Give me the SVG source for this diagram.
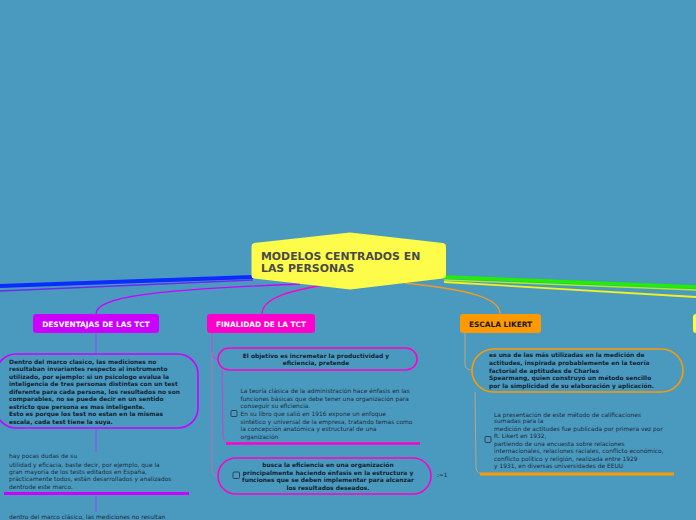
<svg xmlns="http://www.w3.org/2000/svg" width="696" height="520" viewBox="0 0 696 520">
<style>
.bg{fill:#4A9AC0}
.hdr{font-family:"DejaVu Sans",Verdana,sans-serif;font-weight:bold;font-size:7.4px}
.bt{font-family:"DejaVu Sans",Verdana,sans-serif;font-weight:bold;font-size:5.95px;fill:#142230}
.rt{font-family:"DejaVu Sans",Verdana,sans-serif;font-size:5.95px;fill:#1d2c3a}
.cb{fill:none;stroke:#2a3a4a;stroke-width:0.9}
.ln{fill:none}
</style>
<rect class="bg" x="0" y="0" width="696" height="520"/>
<g id="connectors">
  <path class="ln" d="M253 277 L0 286" stroke="#0a2cff" stroke-width="4"/>
  <path class="ln" d="M253 280 L0 291" stroke="#6a2cf0" stroke-width="1.6"/>
  <path class="ln" d="M300 284 C150 290 96 297 96 314" stroke="#cc00ff" stroke-width="1.3"/>
  <path class="ln" d="M335 283 C290 290 262 298 262 314" stroke="#ff00cc" stroke-width="1.3"/>
  <path class="ln" d="M405 283 C470 290 500 298 500 314" stroke="#f39a1a" stroke-width="1.3"/>
  <path class="ln" d="M444 277 L696 287" stroke="#22ee00" stroke-width="3.5"/>
  <path class="ln" d="M444 280 L696 290" stroke="#a8f020" stroke-width="1.4"/>
  <path class="ln" d="M444 282 L696 297" stroke="#f2f020" stroke-width="1.8"/>
  <path class="ln" d="M96 333 L96 354" stroke="#a040ff" stroke-width="1"/>
  <path class="ln" d="M96 428 L96 452" stroke="#a040ff" stroke-width="1"/>
  <path class="ln" d="M4 493.5 L189 493.5" stroke="#cc00ff" stroke-width="3"/>
  <path class="ln" d="M96 496 L96 512" stroke="#a040ff" stroke-width="1"/>
  <path class="ln" d="M212 333 L212 352 Q212 359 218 359" stroke="#d040c8" stroke-width="1"/>
  <path class="ln" d="M212 352 L212 470 Q212 476 218 476" stroke="#c070b8" stroke-width="1"/>
  <path class="ln" d="M222 370 L223 436 Q224 443 230 443" stroke="#d040c8" stroke-width="1"/>
  <path class="ln" d="M226 443.5 L420 443.5" stroke="#ff00cc" stroke-width="2.6"/>
  <path class="ln" d="M465 333 L465 364 Q465 370 472 370" stroke="#b8a77c" stroke-width="1"/>
  <path class="ln" d="M475 392 L476 468 Q477 474 483 474" stroke="#b8a77c" stroke-width="1"/>
  <path class="ln" d="M480 474 L674 474" stroke="#ff9900" stroke-width="3"/>
</g>
<g id="central">
  <path d="M254 243 L350 232.5 L443 243 Q446 243.5 446 247 L446 275 Q446 278 443 278.5 L350 289.5 L254 278.5 Q251.5 278 251.5 275 L251.5 247 Q251.5 243.5 254 243 Z" fill="#fdfc4a"/>
  <text x="261" y="259.5" font-family="DejaVu Sans,Verdana,sans-serif" font-weight="bold" font-size="10.9" fill="#4a4a4a">MODELOS CENTRADOS EN</text>
  <text x="261" y="272" font-family="DejaVu Sans,Verdana,sans-serif" font-weight="bold" font-size="10.9" fill="#4a4a4a">LAS PERSONAS</text>
</g>
<g id="desventajas">
  <rect x="33" y="314" width="126" height="19" rx="3" fill="#cc00ff"/>
  <text class="hdr" x="96" y="326.5" text-anchor="middle" fill="#ffffff">DESVENTAJAS DE LAS TCT</text>
</g>
<g id="desv-texto1">
  <rect x="-4" y="354" width="202" height="74" rx="20" fill="none" stroke="#cc00ff" stroke-width="1.6"/>
  <text class="bt" x="9" y="363.5">Dentro del marco clasico, las mediciones no</text>
  <text class="bt" x="9" y="371">resultaban invariantes respecto al instrumento</text>
  <text class="bt" x="9" y="378.5">utilizado, por ejemplo: si un psicologo evalua la</text>
  <text class="bt" x="9" y="386">inteligencia de tres personas distintas con un test</text>
  <text class="bt" x="9" y="393.5">diferente para cada persona, los resultados no son</text>
  <text class="bt" x="9" y="401">comparables, no se puede decir en un sentido</text>
  <text class="bt" x="9" y="408.5">estricto que persona es mas inteligente.</text>
  <text class="bt" x="9" y="416">Esto es porque los test no estan en la mismas</text>
  <text class="bt" x="9" y="424">escala, cada test tiene la suya.</text>
</g>
<g id="desv-texto2">
  <text class="rt" x="9" y="458">hay pocas dudas de su</text>
  <text class="rt" x="9" y="466.5">utilidad y eficacia, baste decir, por ejemplo, que la</text>
  <text class="rt" x="9" y="473.5">gran mayoría de los tests editados en España,</text>
  <text class="rt" x="9" y="481">prácticamente todos, están desarrollados y analizados</text>
  <text class="rt" x="9" y="488.5">dentrode este marco.</text>
</g>
<g id="desv-texto3">
  <text class="rt" x="9" y="519">dentro del marco clásico, las mediciones no resultan</text>
</g>
<g id="finalidad">
  <rect x="207" y="314" width="108" height="19" rx="3" fill="#ff00cc"/>
  <text class="hdr" x="261" y="326.5" text-anchor="middle" fill="#ffffff">FINALIDAD DE LA TCT</text>
</g>
<g id="fin-objetivo">
  <rect x="218" y="348" width="199" height="22" rx="11" fill="none" stroke="#ff00cc" stroke-width="1.6"/>
  <text class="bt" x="316" y="358" text-anchor="middle">El objetivo es incremetar la productividad y</text>
  <text class="bt" x="316" y="365" text-anchor="middle">eficiencia, pretende</text>
</g>
<g id="fin-teoria">
  <rect class="cb" x="231" y="410.5" width="6" height="6" rx="1"/>
  <text class="rt" x="240.5" y="392.5">La teoría clásica de la administración hace énfasis en las</text>
  <text class="rt" x="240.5" y="400.5">funciones básicas que debe tener una organización para</text>
  <text class="rt" x="240.5" y="408">conseguir su eficiencia.</text>
  <text class="rt" x="240.5" y="416">En su libro que salió en 1916 expone un enfoque</text>
  <text class="rt" x="240.5" y="423.5">sintético y universal de la empresa, tratando temas como</text>
  <text class="rt" x="240.5" y="431">la concepción anatómica y estructural de una</text>
  <text class="rt" x="240.5" y="438.5">organización</text>
</g>
<g id="fin-busca">
  <rect x="218" y="458" width="213" height="36" rx="18" fill="none" stroke="#ff00cc" stroke-width="1.6"/>
  <rect class="cb" x="233" y="472" width="6.5" height="6.5" rx="1"/>
  <text class="bt" x="328" y="466.5" text-anchor="middle">busca la eficiencia en una organización</text>
  <text class="bt" x="328" y="474.5" text-anchor="middle">principalmente haciendo énfasis en la estructura y</text>
  <text class="bt" x="328" y="482" text-anchor="middle">funciones que se deben implementar para alcanzar</text>
  <text class="bt" x="328" y="489.5" text-anchor="middle">los resultados deseados.</text>
  <text x="437" y="477" font-family="DejaVu Sans,Verdana,sans-serif" font-size="5.8" fill="#1d2c3a">:=1</text>
</g>
<g id="escala">
  <rect x="460" y="314" width="81" height="19" rx="3" fill="#ff9900"/>
  <text class="hdr" x="500.5" y="326.5" text-anchor="middle" fill="#1a1a1a">ESCALA LIKERT</text>
</g>
<g id="esc-definicion">
  <rect x="472" y="349" width="211" height="43" rx="21.5" fill="none" stroke="#ff9900" stroke-width="1.6"/>
  <text class="bt" x="489" y="357">es una de las más utilizadas en la medición de</text>
  <text class="bt" x="489" y="364.5">actitudes, inspirada probablemente en la teoría</text>
  <text class="bt" x="489" y="372.5">factorial de aptitudes de Charles</text>
  <text class="bt" x="489" y="380">Spearmang, quien construyó un método sencillo</text>
  <text class="bt" x="489" y="388">por la simplicidad de su elaboración y aplicación.</text>
</g>
<g id="esc-presentacion">
  <rect class="cb" x="485" y="436.5" width="6" height="6" rx="1"/>
  <text class="rt" x="494" y="416.5">La presentación de este método de calificaciones</text>
  <text class="rt" x="494" y="423">sumadas para la</text>
  <text class="rt" x="494" y="431">medición de actitudes fue publicada por primera vez por</text>
  <text class="rt" x="494" y="438">R. Likert en 1932,</text>
  <text class="rt" x="494" y="446">partiendo de una encuesta sobre relaciones</text>
  <text class="rt" x="494" y="453">internacionales, relaciones raciales, conflicto económico,</text>
  <text class="rt" x="494" y="461">conflicto político y religión, realizada entre 1929</text>
  <text class="rt" x="494" y="468">y 1931, en diversas universidades de EEUU</text>
</g>
<g id="derecha">
  <rect x="693" y="314" width="20" height="19" rx="3" fill="#ffff33"/>
</g>
</svg>
